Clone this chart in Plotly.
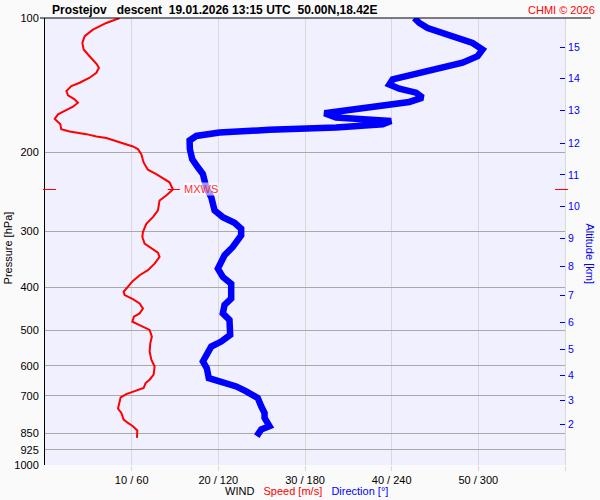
import math
import plotly.graph_objects as go

# ---- data ----
speed_p = [100, 102.6, 106.2, 109.8, 113.7, 117.6, 120.7, 123.8, 127.0, 129.2,
           132.6, 136.0, 139.6, 142.0, 145.7, 149.0, 152.1, 154.7, 157.9, 161.4,
           164.3, 168.2, 170.5, 172.9, 177.4, 179.4, 181.9, 184.1, 185.5, 187.6,
           191.5, 193.8, 196.5, 201.6, 210.4, 218.4, 223.4, 228.0, 233.1, 241.9,
           249.5, 256.0, 269.5, 278.9, 288.7, 301.2, 309.0, 319.8, 328.1, 334.9,
           342.4, 354.4, 366.6, 376.2, 387.3, 399.4, 409.8, 416.8, 425.4, 435.1,
           446.4, 458.0, 465.9, 478.0, 486.2, 498.7, 516.2, 534.2, 557.4, 581.6,
           601.9, 628.1, 644.5, 655.8, 672.8, 684.3, 693.9, 705.8, 726.6, 747.8,
           764.8, 791.2, 805.2, 818.9, 837.2, 869.6]
speed_ms = [8.61, 7.08, 5.53, 4.58, 4.31, 4.46, 4.96, 5.53, 5.99, 6.22,
            5.93, 5.15, 4.00, 3.04, 2.47, 2.65, 3.42, 3.80, 3.23, 2.27,
            1.50, 1.12, 1.50, 1.78, 1.87, 2.85, 4.77, 5.93, 7.08, 7.84,
            9.38, 10.14, 10.72, 11.11, 11.38, 11.87, 12.84, 13.60, 14.37, 14.76,
            13.99, 13.22, 13.03, 12.45, 11.69, 11.30, 11.23, 11.49, 12.27, 13.03,
            13.22, 12.65, 11.87, 10.92, 10.14, 9.57, 9.07, 9.19, 10.14, 10.92,
            11.30, 10.92, 10.26, 10.08, 10.92, 12.07, 12.33, 12.15, 12.07, 12.27,
            12.65, 12.53, 12.07, 11.61, 11.38, 10.34, 9.38, 8.73, 8.61, 8.42,
            8.81, 9.07, 9.57, 10.14, 10.65, 10.61]

dir_p = [100, 102.6, 105.3, 108.0, 110.8, 113.7, 117.6, 121.7, 125.9, 130.3,
         133.8, 137.2, 140.8, 143.9, 146.9, 150.7, 154.1, 157.3, 161.4, 163.3,
         167.0, 168.5, 169.9, 172.9, 175.8, 177.9, 180.4, 183.6, 187.9, 196.5,
         206.8, 215.8, 223.4, 239.1, 251.7, 269.5, 278.9, 287.2, 296.2, 306.4,
         325.3, 339.4, 351.3, 363.6, 379.5, 393.3, 424.2, 438.6, 458.0, 473.8,
         511.6, 529.5, 543.3, 562.3, 586.7, 607.2, 639.2, 650.1, 667.1, 684.3,
         708.2, 739.0, 764.8, 784.7, 818.9, 832.9, 862.0]
dir_deg = [255.7, 259.2, 264.9, 275.3, 286.8, 296.0, 302.9, 299.5, 289.1, 270.7,
           252.2, 240.7, 238.4, 245.3, 256.9, 261.4, 252.2, 229.2, 203.8, 193.5,
           201.5, 224.6, 239.6, 233.8, 201.5, 155.4, 120.8, 104.7, 100.1, 100.3,
           101.9, 105.8, 109.3, 111.6, 115.1, 117.4, 123.1, 131.2, 135.8, 135.8,
           130.0, 124.3, 122.0, 119.7, 123.1, 128.9, 128.9, 124.3, 123.1, 127.7,
           128.2, 122.0, 115.1, 112.7, 109.3, 112.0, 113.4, 120.8, 132.4, 139.3,
           147.3, 149.7, 152.0, 152.0, 155.4, 149.7, 146.6]

pressure_ticks = [100, 200, 300, 400, 500, 600, 700, 850, 925, 1000]
speed_ticks = [10, 20, 30, 40, 50, 60]
speed_tick_labels = ["10 / 60", "20 / 120", "30 / 180", "40 / 240", "50 / 300", ""]
alt_km = [2, 3, 4, 5, 6, 7, 8, 9, 10, 11, 12, 13, 14, 15]
alt_p = [811.8, 716.5, 631.3, 550.8, 479.6, 416.7, 359.8, 310.6, 264.0, 224.5,
         190.8, 160.9, 136.7, 116.6]
mxws_p = 241.9
mxws_speed = 14.76

FONT = "Liberation Sans, Arial, sans-serif"
RED = "#FF0000"
BLUE = "#0000FF"
NB = "\u00a0"

fig = go.Figure()
fig.add_trace(go.Scatter(x=speed_ms, y=speed_p, mode="lines",
                         line=dict(color=RED, width=2), xaxis="x", yaxis="y",
                         hoverinfo="skip"))
fig.add_trace(go.Scatter(x=[mxws_speed - 0.6, mxws_speed + 0.8], y=[mxws_p, mxws_p],
                         mode="lines", line=dict(color=RED, width=1),
                         xaxis="x", yaxis="y", hoverinfo="skip"))
fig.add_trace(go.Scatter(x=dir_deg, y=dir_p, mode="lines",
                         line=dict(color=BLUE, width=6.5), xaxis="x2", yaxis="y2",
                         hoverinfo="skip"))

L, R, T, B = 45, 35, 15, 35
W, H = 600, 500
pw, ph = W - L - R, H - T - B


def px_x(x):
    return (x - L) / pw


def px_y(y):
    return (H - B - y) / ph


mx_paper_y = 3 - math.log10(mxws_p)

title_text = ("<b>Prostejov" + NB * 3 + "descent" + NB * 2 + "19.01.2026 13:15 UTC"
              + NB * 2 + "50.00N,18.42E</b>")

fig.update_layout(
    width=W, height=H,
    margin=dict(l=L, r=R, t=T, b=B, pad=0),
    paper_bgcolor="#FAFAFA", plot_bgcolor="#F0F0FF",
    showlegend=False,
    font=dict(family=FONT, size=11, color="black"),
    xaxis=dict(range=[0, 60], tickvals=speed_ticks, ticktext=speed_tick_labels,
               showgrid=True, gridcolor="#D9D9D9", gridwidth=1, zeroline=False,
               ticks="outside", ticklen=5, tickcolor="#D9D9D9",
               tickfont=dict(size=11, color="black"), showline=False),
    xaxis2=dict(range=[0, 360], overlaying="x", visible=False),
    yaxis=dict(type="log", range=[3, 2], tickvals=pressure_ticks,
               ticktext=[str(v) for v in pressure_ticks],
               showgrid=True, gridcolor="#A9A9A9", gridwidth=1, zeroline=False,
               showline=True, linecolor="black", linewidth=1,
               ticks="outside", ticklen=3, tickcolor="rgba(0,0,0,0)",
               tickfont=dict(size=11, color="black")),
    yaxis2=dict(type="log", range=[3, 2], overlaying="y", side="right",
                tickvals=alt_p, ticktext=[str(v) for v in alt_km],
                ticks="inside", ticklen=5, tickcolor=BLUE, tickwidth=1,
                tickfont=dict(size=10.5, color=BLUE),
                showgrid=False, zeroline=False,
                showline=True, linecolor="#D9D9D9", linewidth=1),
    shapes=[
        dict(type="line", xref="paper", yref="paper", x0=px_x(40), x1=px_x(591),
             y0=1, y1=1, line=dict(color="black", width=1)),
        dict(type="line", xref="paper", yref="paper", x0=px_x(43), x1=px_x(56),
             y0=mx_paper_y, y1=mx_paper_y, line=dict(color=RED, width=1)),
        dict(type="line", xref="paper", yref="paper", x0=px_x(555), x1=px_x(568),
             y0=mx_paper_y, y1=mx_paper_y, line=dict(color=RED, width=1)),
    ],
    annotations=[
        dict(xref="paper", yref="paper", x=px_x(50), y=px_y(7), xanchor="left",
             yanchor="middle", showarrow=False, text=title_text,
             font=dict(size=12, color="black", family=FONT)),
        dict(xref="paper", yref="paper", x=px_x(597), y=px_y(7), xanchor="right",
             yanchor="middle", showarrow=False, text="CHMI \u00a9 2026",
             font=dict(size=11, color=RED, family=FONT)),
        dict(xref="paper", yref="paper", x=px_x(8), y=px_y(247), xanchor="center",
             yanchor="middle", showarrow=False, text="Pressure [hPa]", textangle=-90,
             font=dict(size=11, color="black", family=FONT)),
        dict(xref="paper", yref="paper", x=px_x(590), y=px_y(252), xanchor="center",
             yanchor="middle", showarrow=False, text="Altitude [km]", textangle=90,
             font=dict(size=11, color=BLUE, family=FONT)),
        dict(xref="paper", yref="paper", x=px_x(306), y=px_y(491), xanchor="center",
             yanchor="middle", showarrow=False,
             text="WIND" + NB * 3 + "<span style='color:#FF0000'>Speed [m/s]</span>"
                  + NB * 3 + "<span style='color:#0000FF'>Direction [\u00b0]</span>",
             font=dict(size=11, color="black", family=FONT)),
        dict(xref="x", yref="paper", x=mxws_speed, y=mx_paper_y, xanchor="left",
             yanchor="middle", xshift=10, showarrow=False, text="MXWS",
             bgcolor="rgba(255,255,255,0.6)", borderpad=0,
             font=dict(size=11, color="#FF3030", family=FONT)),
    ],
)

fig.write_html("out.html", config={"displayModeBar": False},
               post_script="document.body.style.margin='0';document.body.style.padding='0';")
